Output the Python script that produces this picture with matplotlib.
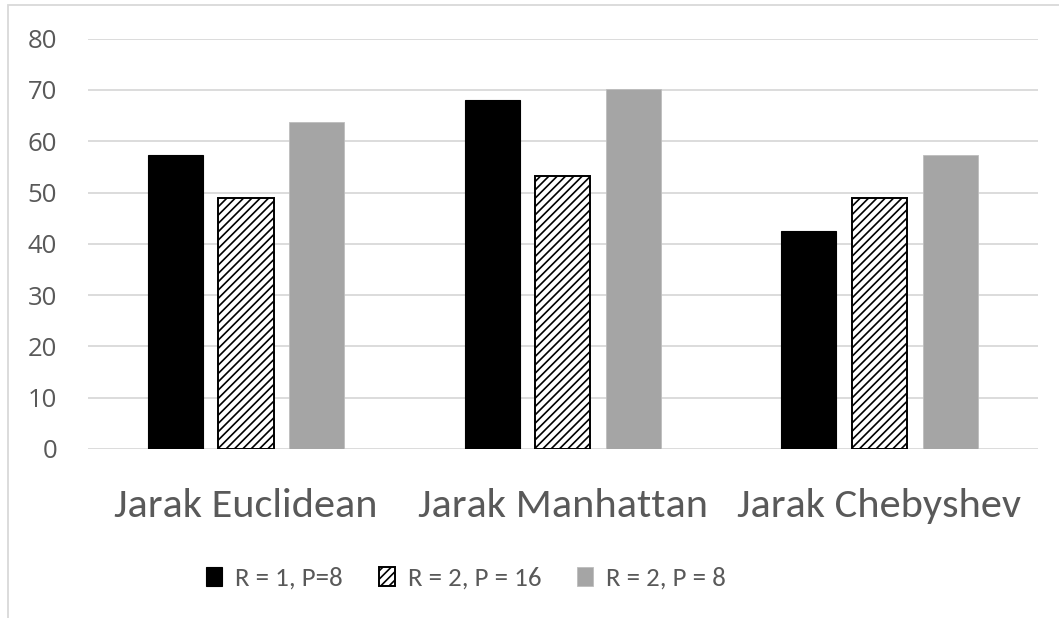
import matplotlib
matplotlib.use("Agg")
import matplotlib.pyplot as plt
import numpy as np
from matplotlib.patches import Rectangle

categories = ["Jarak Euclidean", "Jarak Manhattan", "Jarak Chebyshev"]
series_names = ["R = 1, P=8", "R = 2, P = 16", "R = 2, P = 8"]
r1_p8 = [57.4, 68.0, 42.5]
r2_p16 = [49.0, 53.2, 49.0]
r2_p8 = [63.7, 70.1, 57.3]
y_ticks = [0, 10, 20, 30, 40, 50, 60, 70, 80]

W, H = 1059, 618
DPI = 100
TEXT = "#595959"
plt.rcParams["hatch.linewidth"] = 1.2
plt.rcParams["hatch.color"] = "black"

fig = plt.figure(figsize=(W / DPI, H / DPI), dpi=DPI)
# chart-area frame (only its top and left edges fall inside the canvas)
fig.patches.append(Rectangle((8 / W, -0.1), 1.2, 1 - 5 / H + 0.1, transform=fig.transFigure,
                             fill=False, edgecolor="#D9D9D9", linewidth=1.3))

left, right, bottom, top = 87.7, 1037.8, 449, 38.6
ax = fig.add_axes([left / W, 1 - bottom / H, (right - left) / W, (bottom - top) / H])

x = np.arange(len(categories))
bw = 0.174
step = 0.223
styles = [
    dict(color="black", edgecolor="black", linewidth=0.8),
    dict(color="white", edgecolor="black", linewidth=1.4, hatch="////"),
    dict(color="#A5A5A5", edgecolor="#BDBDBD", linewidth=0.6),
]
handles = []
for i, (vals, st, name) in enumerate(zip([r1_p8, r2_p16, r2_p8], styles, series_names)):
    b = ax.bar(x + (i - 1) * step, vals, width=bw, label=name, zorder=3, **st)
    handles.append(b)

ax.set_xlim(-0.5, 2.5)
ax.set_ylim(0, 80)
ax.set_yticks(y_ticks)
ax.set_xticks(x)
ax.set_xticklabels(categories, fontsize=30.5, family="Carlito", color=TEXT)
ax.set_yticklabels([str(v) for v in y_ticks], fontsize=18.5, family="Open Sans", color=TEXT)
ax.tick_params(axis="y", length=0, pad=22)
ax.tick_params(axis="x", length=0, pad=28)
ax.grid(axis="y", color="#D9D9D9", linewidth=1.3, zorder=0)
for s in ax.spines.values():
    s.set_visible(False)

fs = 19.4
fpx = fs * DPI / 72
leg = fig.legend(handles=handles, labels=series_names, loc="center",
                 bbox_to_anchor=(466 / W, 1 - 578 / H), ncol=3, frameon=False,
                 prop={"family": "Carlito", "size": fs},
                 handlelength=16 / fpx, handleheight=19 / fpx,
                 handletextpad=13 / fpx, columnspacing=36 / fpx, borderpad=0)
for t in leg.get_texts():
    t.set_color(TEXT)

fig.savefig("out.png", dpi=DPI)
